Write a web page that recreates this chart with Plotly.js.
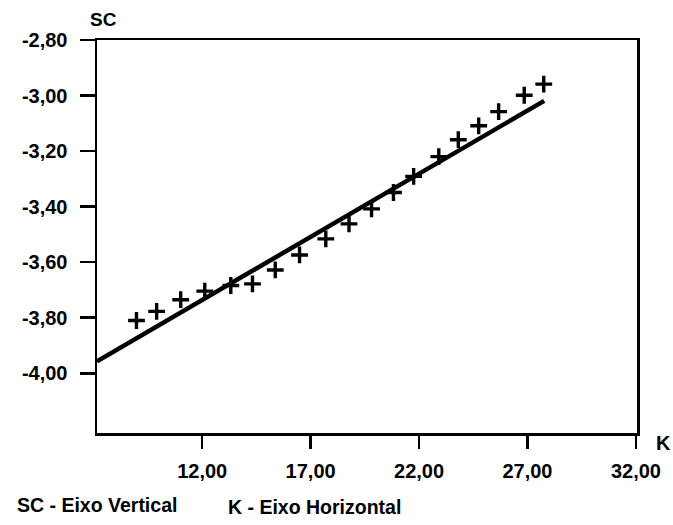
<!DOCTYPE html>
<html>
<head>
<meta charset="utf-8">
<script src="https://cdn.plot.ly/plotly-3.0.1.min.js"></script>
<style>html,body{margin:0;padding:0;background:#fff;}#chart{width:673px;height:525px;}</style>
</head>
<body>
<div id="chart"></div>
<script>
// Observed points (K, SC)
var pointsK  = [8.97, 9.90, 11.01, 12.12, 13.32, 14.32, 15.37, 16.49, 17.70, 18.77, 19.81, 20.82, 21.75, 22.91, 23.81, 24.75, 25.67, 26.85, 27.75];
var pointsSC = [-3.810, -3.777, -3.735, -3.704, -3.684, -3.678, -3.628, -3.574, -3.516, -3.462, -3.408, -3.349, -3.291, -3.220, -3.159, -3.109, -3.058, -2.999, -2.959];
// Fitted line end points
var lineK  = [7.15, 27.77];
var lineSC = [-3.957, -3.019];
// Axis ticks
var xTicks = [12, 17, 22, 27, 32];
var xTickLabels = ['12,00', '17,00', '22,00', '27,00', '32,00'];
var yTicks = [-2.8, -3.0, -3.2, -3.4, -3.6, -3.8, -4.0];
var yTickLabels = ['-2,80', '-3,00', '-3,20', '-3,40', '-3,60', '-3,80', '-4,00'];

var fontFam = '"Liberation Sans", Arial, sans-serif';
var W = 673, H = 525, mL = 97, mR = 36, mT = 40, mB = 92;
var pw = W - mL - mR, ph = H - mT - mB;
function px(x){ return (x - mL) / pw; }
function py(y){ return (H - mB - y) / ph; }

var traces = [
  {x: lineK, y: lineSC, mode: 'lines', line: {color: '#000', width: 4.5}, hoverinfo: 'skip', cliponaxis: false},
  {x: pointsK, y: pointsSC, mode: 'markers',
   marker: {symbol: 'cross-thin', size: 12, color: '#000', line: {color: '#000', width: 3.4}}}
];

var axisCommon = {
  showgrid: false, zeroline: false, showline: true, linecolor: '#000', linewidth: 2.5,
  mirror: true, ticks: 'outside', tickcolor: '#000', tickwidth: 2.5,
  tickfont: {family: fontFam, size: 20, color: '#000', weight: 'bold'},
  tickmode: 'array'
};

var layout = {
  width: W, height: H,
  margin: {l: mL, r: mR, t: mT, b: mB},
  paper_bgcolor: '#fff', plot_bgcolor: '#fff',
  showlegend: false,
  xaxis: Object.assign({}, axisCommon, {range: [7.15, 32.05], tickvals: xTicks, ticktext: xTickLabels, ticklen: 13, ticklabelstandoff: 5}),
  yaxis: Object.assign({}, axisCommon, {range: [-4.215, -2.80], tickvals: yTicks, ticktext: yTickLabels, ticklen: 15, ticklabelstandoff: 8}),
  annotations: [
    {text: '<b>SC</b>', xref: 'paper', yref: 'paper', x: px(103), y: py(20), xanchor: 'center', yanchor: 'middle', showarrow: false, font: {family: fontFam, size: 19, color: '#000'}},
    {text: '<b>K</b>', xref: 'paper', yref: 'paper', x: px(654), y: py(443), xanchor: 'left', yanchor: 'middle', showarrow: false, font: {family: fontFam, size: 20, color: '#000'}},
    {text: '<b>SC - Eixo Vertical</b>', xref: 'paper', yref: 'paper', x: px(15), y: py(505), xanchor: 'left', yanchor: 'middle', showarrow: false, font: {family: fontFam, size: 19.5, color: '#000'}},
    {text: '<b>K - Eixo Horizontal</b>', xref: 'paper', yref: 'paper', x: px(226), y: py(507), xanchor: 'left', yanchor: 'middle', showarrow: false, font: {family: fontFam, size: 19.5, color: '#000'}}
  ]
};

Plotly.newPlot('chart', traces, layout, {displayModeBar: false, staticPlot: true});
</script>
</body>
</html>
